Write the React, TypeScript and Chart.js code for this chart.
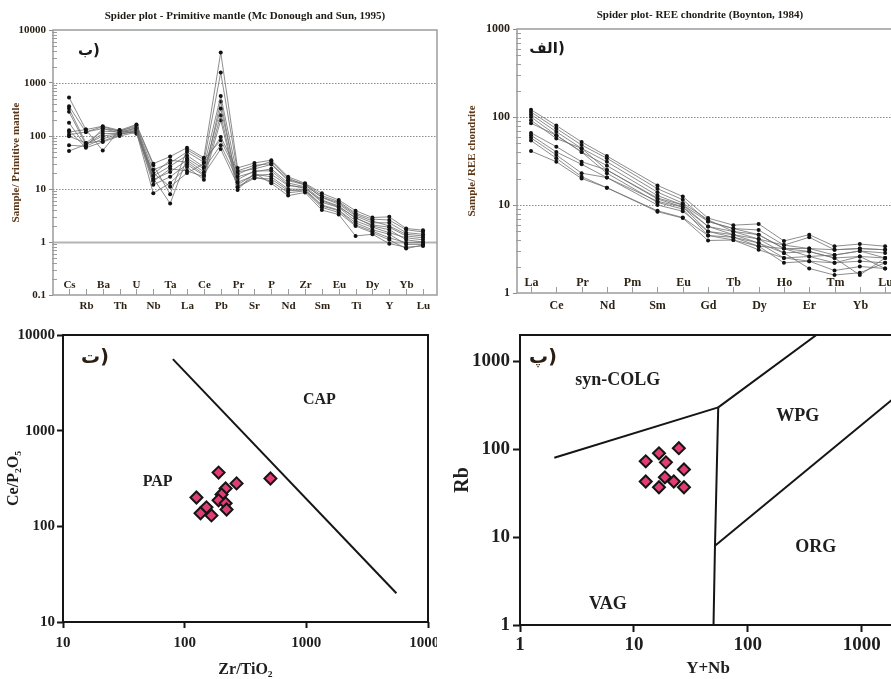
import React, { useEffect, useRef } from 'react';
import { Chart, registerables } from 'chart.js';

Chart.register(...registerables);

const SERIF = "'Liberation Serif', 'Times New Roman', Times, serif";
const ARABIC = "'DejaVu Sans', 'Noto Sans', sans-serif";

// ---------- Panel (ب): primitive-mantle normalised spider plot ----------
const PM_ELEMENTS = ['Cs', 'Rb', 'Ba', 'Th', 'U', 'Nb', 'Ta', 'La', 'Ce', 'Pb', 'Pr', 'Sr', 'P', 'Nd', 'Zr', 'Sm', 'Eu', 'Ti', 'Dy', 'Y', 'Yb', 'Lu'];
const PM_S01 = [535, 132, 153, 128, 165, 30, 41, 60, 39, 3770, 25, 31, 35, 17, 12.8, 8.3, 6.2, 3.9, 2.9, 2.98, 1.8, 1.67];
const PM_S02 = [366, 119, 138, 125, 150, 23, 31, 50, 32, 1570, 21, 24, 29, 14.4, 12, 6.9, 5.2, 3.1, 2.3, 2.3, 1.5, 1.4];
const PM_S03 = [330, 74, 124, 118, 140, 17.6, 27, 43, 26, 566, 17, 21, 24, 13, 11, 6.2, 4.8, 2.8, 2.1, 1.9, 1.3, 1.2];
const PM_S04 = [286, 69, 111, 112, 135, 15, 21, 35, 21, 330, 13.4, 18, 19, 11.6, 10.7, 5.6, 4.5, 2.5, 1.9, 1.5, 1.2, 1.1];
const PM_S05 = [177, 64, 89, 108, 125, 12, 17, 29, 18, 247, 10.8, 16, 15.5, 9.3, 9.5, 4.8, 3.9, 2.1, 1.6, 1.2, 0.97, 0.97];
const PM_S06 = [128, 60, 77, 100, 118, 8.3, 13, 26, 15, 198, 9.6, 20, 12.8, 7.5, 8.6, 4.0, 3.3, 1.3, 1.4, 0.93, 0.8, 0.84];
const PM_S07 = [119, 132, 53, 130, 110, 20, 11, 20, 30, 96, 22, 28, 30, 15, 12.5, 7.5, 5.8, 3.5, 2.7, 2.6, 1.7, 1.55];
const PM_S08 = [106, 119, 150, 122, 160, 28, 8, 55, 36, 83, 19, 26, 33, 16, 11.8, 7.0, 5.5, 3.3, 2.5, 2.0, 1.4, 1.3];
const PM_S09 = [99, 74, 80, 105, 130, 16, 5.3, 38, 24, 67, 15, 22, 22, 12, 10.2, 6.0, 4.6, 2.9, 2.0, 1.7, 1.1, 1.0];
const PM_S10 = [67, 64, 138, 115, 145, 19, 35, 32, 19, 57, 12, 19, 17, 10, 9.8, 5.0, 4.0, 2.3, 1.7, 1.4, 0.9, 0.9];
const PM_S11 = [52, 69, 100, 110, 120, 14, 24, 22, 17, 450, 11, 17, 14, 8.5, 9.2, 4.5, 3.6, 2.0, 1.5, 1.1, 0.75, 0.88];
const PM_SAMPLES = [PM_S01, PM_S02, PM_S03, PM_S04, PM_S05, PM_S06, PM_S07, PM_S08, PM_S09, PM_S10, PM_S11];
const PM_Y_TICKS = [0.1, 1, 10, 100, 1000, 10000];

// ---------- Panel (الف): chondrite-normalised REE spider plot ----------
const REE_ELEMENTS = ['La', 'Ce', 'Pr', 'Nd', 'Pm', 'Sm', 'Eu', 'Gd', 'Tb', 'Dy', 'Ho', 'Er', 'Tm', 'Yb', 'Lu'];
const REE_S01 = [121, 80, 52, 36, null, 16.7, 12.5, 7.1, 5.9, 6.1, 3.9, 4.6, 3.4, 3.6, 3.4];
const REE_S02 = [114, 74, 48, 34, null, 15.3, 11.5, 6.5, 5.4, 5.2, 3.5, 4.3, 3.1, 3.2, 3.1];
const REE_S03 = [107, 68, 44, 31, null, 14, 10.5, 6.8, 5.0, 4.6, 3.2, 3.2, 2.7, 3.0, 2.85];
const REE_S04 = [100, 62, 40, 28, null, 12.8, 10, 5.7, 4.6, 4.1, 2.85, 2.96, 2.5, 2.6, 2.5];
const REE_S05 = [92, 57, 44, 25, null, 11.7, 9.5, 5.0, 4.3, 3.7, 2.5, 2.6, 2.2, 2.3, 2.2];
const REE_S06 = [85, 62, 40, 23, null, 10.7, 9.0, 4.5, 4.0, 3.4, 2.2, 2.3, 1.8, 2.0, 1.9];
const REE_S07 = [66, 46, 31, 25, null, 12.0, 10, 6.5, 5.4, 4.6, 3.2, 2.6, 2.7, 3.0, 2.5];
const REE_S08 = [62, 40, 29, 20.5, null, 11, 9.5, 5.7, 5.0, 4.1, 3.5, 3.2, 3.1, 3.2, 3.1];
const REE_S09 = [58, 37, 23, 20.5, null, 10, 8.5, 5.0, 4.6, 3.7, 2.85, 1.9, 1.6, 1.7, 2.2];
const REE_S10 = [54, 34, 21, 15.7, null, 8.6, 7.2, 4.5, 4.3, 3.4, 3.2, 2.96, 2.5, 1.6, 2.5];
const REE_S11 = [41, 31, 20, 15.7, null, 8.4, 7.1, 3.95, 4.0, 3.1, 2.5, 2.3, 2.2, 2.6, 1.9];
const REE_SAMPLES = [REE_S01, REE_S02, REE_S03, REE_S04, REE_S05, REE_S06, REE_S07, REE_S08, REE_S09, REE_S10, REE_S11];
const REE_Y_TICKS = [1, 10, 100, 1000];

// ---------- Panel (ت): Ce/P2O5 vs Zr/TiO2 ----------
const ZR_TIO2 = [190, 507, 267, 217, 201, 125, 190, 217, 151, 135, 166, 221];
const CE_P2O5 = [365, 316, 281, 249, 215, 200, 187, 174, 158, 137, 130, 150];
const CAP_PAP_X = [80, 5500];
const CAP_PAP_Y = [5600, 20];
const ZR_TICKS = [10, 100, 1000, 10000];
const CE_TICKS = [10, 100, 1000, 10000];

// ---------- Panel (پ): Rb vs Y+Nb (Pearce et al.) ----------
const Y_NB = [24.8, 16.6, 12.7, 19.1, 27.5, 12.7, 18.7, 22.4, 16.6, 27.5];
const RB = [103, 90, 73, 71, 59, 43, 48, 43, 37, 37];
const SYNCOLG_VAG_X = [2, 55];
const SYNCOLG_VAG_Y = [80, 300];
const VAG_WPG_X = [55, 51.5, 50];
const VAG_WPG_Y = [300, 8, 1];
const SYNCOLG_WPG_X = [55, 400];
const SYNCOLG_WPG_Y = [300, 2000];
const WPG_ORG_X = [51.5, 2000];
const WPG_ORG_Y = [8, 400];
const YNB_TICKS = [1, 10, 100, 1000];
const RB_TICKS = [1, 10, 100, 1000];

// ---------- helpers ----------
const pairs = (xs: number[], ys: (number | null)[]) => xs.map((x, i) => ({ x, y: ys[i] as number }));
const indexed = (ys: (number | null)[]) => ys.map((y, i) => ({ x: i, y: y as number }));

const fixSize = (size: number) => (s: any) => {
  if (s.isHorizontal()) s.height = size;
  else s.width = size;
  s.paddingLeft = 0;
  s.paddingRight = 0;
  s.paddingTop = 0;
  s.paddingBottom = 0;
};
const setTicks = (vals: number[]) => (s: any) => {
  s.ticks = vals.map((v) => ({ value: v }));
};

function spiderDecor(p: any) {
  return {
    id: 'spiderDecor',
    beforeDatasetsDraw(chart: any) {
      const { ctx, chartArea: a, scales } = chart;
      const y = scales.y;
      ctx.save();
      for (const v of p.yTicks) {
        if (v <= p.yMin || v >= p.yMax) continue;
        const py = Math.round(y.getPixelForValue(v)) + 0.5;
        ctx.beginPath();
        if (v === p.solidAt) {
          ctx.setLineDash([]);
          ctx.strokeStyle = '#b4b4b4';
          ctx.lineWidth = 2;
        } else {
          ctx.setLineDash([1.5, 1.5]);
          ctx.strokeStyle = '#8a8a8a';
          ctx.lineWidth = 1;
        }
        ctx.moveTo(a.left, py);
        ctx.lineTo(a.right, py);
        ctx.stroke();
      }
      ctx.restore();
    },
    afterDatasetsDraw(chart: any) {
      const { ctx, chartArea: a, scales } = chart;
      const x = scales.x;
      const y = scales.y;
      ctx.save();
      ctx.setLineDash([]);
      ctx.strokeStyle = '#9c9c9c';
      ctx.lineWidth = 1.5;
      ctx.strokeRect(a.left, a.top, a.right - a.left, a.bottom - a.top);
      ctx.lineWidth = 1;
      const e0 = Math.round(Math.log10(p.yMin));
      const e1 = Math.round(Math.log10(p.yMax));
      for (let e = e0; e < e1; e++) {
        for (let k = 2; k <= 9; k++) {
          const v = k * Math.pow(10, e);
          const py = Math.round(y.getPixelForValue(v)) + 0.5;
          ctx.beginPath();
          ctx.moveTo(a.left - 1, py);
          ctx.lineTo(a.left + 4, py);
          ctx.stroke();
        }
      }
      ctx.font = `bold ${p.labelSize}px ${SERIF}`;
      ctx.fillStyle = '#2e2416';
      ctx.textAlign = 'center';
      ctx.textBaseline = 'middle';
      p.elements.forEach((el: string, i: number) => {
        const px = Math.round(x.getPixelForValue(i)) + 0.5;
        ctx.beginPath();
        ctx.moveTo(px, a.bottom);
        ctx.lineTo(px, a.bottom - 6);
        ctx.stroke();
        ctx.fillText(el, px, i % 2 === 0 ? p.innerY : p.outerY);
      });
      ctx.font = `bold 11px ${SERIF}`;
      ctx.fillStyle = '#1e1a14';
      ctx.fillText(p.title, p.titleX, p.titleY);
      ctx.font = `bold 15px ${ARABIC}`;
      ctx.fillStyle = '#1a1a1a';
      ctx.fillText(p.letter, p.letterX, p.letterY);
      ctx.restore();
    },
  };
}

function scatterDecor(p: any) {
  return {
    id: 'scatterDecor',
    afterDatasetsDraw(chart: any) {
      const { ctx, chartArea: a, scales } = chart;
      ctx.save();
      ctx.strokeStyle = '#151515';
      ctx.lineWidth = 2;
      ctx.strokeRect(a.left, a.top, a.right - a.left, a.bottom - a.top);
      ctx.fillStyle = '#1e1e1e';
      ctx.textAlign = 'center';
      ctx.textBaseline = 'middle';
      for (const l of p.labels) {
        ctx.font = `bold ${p.labelSize}px ${SERIF}`;
        ctx.fillText(l.text, scales.x.getPixelForValue(l.x), scales.y.getPixelForValue(l.y));
      }
      ctx.font = `bold ${p.letterSize}px ${ARABIC}`;
      ctx.fillStyle = '#2a1d12';
      ctx.fillText(p.letter, p.letterX, p.letterY);
      ctx.restore();
    },
  };
}

const commonOptions = {
  responsive: false,
  animation: false as const,
  devicePixelRatio: 1,
  events: [] as any[],
};

function makeSpider(p: any) {
  const datasets = p.samples.map((s: (number | null)[], k: number) => ({
    label: `S${k + 1}`,
    data: indexed(s),
    borderColor: '#707070',
    borderWidth: 0.8,
    pointRadius: 2,
    pointBackgroundColor: '#111',
    pointBorderWidth: 0,
    spanGaps: true,
    tension: 0,
  }));
  return {
    type: 'line',
    data: { datasets },
    options: {
      ...commonOptions,
      layout: { autoPadding: false, padding: { top: p.padTop, right: p.padRight, left: 0, bottom: 0 } },
      plugins: { legend: { display: false }, tooltip: { enabled: false }, title: { display: false } },
      scales: {
        x: {
          type: 'linear',
          min: p.xMin,
          max: p.xMax,
          afterFit: fixSize(p.xHeight),
          ticks: { display: false },
          grid: { display: false },
          border: { display: false },
        },
        y: {
          type: 'logarithmic',
          min: p.yMin,
          max: p.yMax,
          afterFit: fixSize(p.yWidth),
          afterBuildTicks: setTicks(p.yTicks),
          ticks: {
            autoSkip: false,
            padding: 3,
            color: '#2a2218',
            font: { family: SERIF, size: p.tickSize, weight: 'bold' },
            callback: (v: number) => String(v),
          },
          grid: { drawOnChartArea: false, drawTicks: true, tickLength: 4, tickColor: '#8c8c8c', tickWidth: 1 },
          border: { display: false },
          title: {
            display: true,
            text: p.yTitle,
            color: '#5a3516',
            font: { family: SERIF, size: 11, weight: 'bold' },
            padding: { top: p.yTitlePad, bottom: 0 },
          },
        },
      },
    },
    plugins: [spiderDecor(p)],
  };
}

function makeScatter(p: any) {
  const lineSets = p.lines.map((ln: any) => ({
    data: pairs(ln[0], ln[1]),
    showLine: true,
    borderColor: '#151515',
    borderWidth: 2,
    pointRadius: 0,
    tension: 0,
  }));
  return {
    type: 'scatter',
    data: {
      datasets: [
        {
          data: pairs(p.xs, p.ys),
          pointStyle: 'rectRot',
          pointRadius: 6,
          pointBackgroundColor: '#e23d72',
          pointBorderColor: '#151515',
          pointBorderWidth: 2,
        },
        ...lineSets,
      ],
    },
    options: {
      ...commonOptions,
      layout: { autoPadding: false, padding: { top: p.padTop, right: p.padRight, left: 0, bottom: 0 } },
      plugins: { legend: { display: false }, tooltip: { enabled: false } },
      scales: {
        x: {
          type: 'logarithmic',
          min: p.xMin,
          max: p.xMax,
          afterFit: fixSize(p.xHeight),
          afterBuildTicks: setTicks(p.xTicks),
          ticks: {
            autoSkip: false,
            maxRotation: 0,
            padding: p.xTickPad,
            color: '#1e1e1e',
            font: { family: SERIF, size: p.tickSize, weight: 'bold' },
            callback: (v: number) => String(v),
          },
          grid: { drawOnChartArea: false, drawTicks: true, tickLength: p.tickLen, tickColor: '#151515', tickWidth: 2 },
          border: { display: false },
          title: {
            display: true,
            text: p.xTitle,
            color: '#1e1e1e',
            font: { family: SERIF, size: p.xTitleSize, weight: 'bold' },
            padding: { top: 0, bottom: 0 },
          },
        },
        y: {
          type: 'logarithmic',
          min: p.yMin,
          max: p.yMax,
          afterFit: fixSize(p.yWidth),
          afterBuildTicks: setTicks(p.yTicks),
          ticks: {
            autoSkip: false,
            padding: p.yTickPad,
            color: '#1e1e1e',
            font: { family: SERIF, size: p.tickSize, weight: 'bold' },
            callback: (v: number) => String(v),
          },
          grid: { drawOnChartArea: false, drawTicks: true, tickLength: p.tickLen, tickColor: '#151515', tickWidth: 2 },
          border: { display: false },
          title: {
            display: true,
            text: p.yTitle,
            color: '#1e1e1e',
            font: { family: SERIF, size: p.yTitleSize, weight: 'bold' },
            padding: { top: p.yTitlePad, bottom: 0 },
          },
        },
      },
    },
    plugins: [scatterDecor(p)],
  };
}

const PANEL_TL = () =>
  makeSpider({
    elements: PM_ELEMENTS,
    samples: PM_SAMPLES,
    yMin: 0.1,
    yMax: 10000,
    yTicks: PM_Y_TICKS,
    solidAt: 1,
    xMin: -0.95,
    xMax: 21.83,
    padTop: 30,
    padRight: 8,
    yWidth: 53,
    xHeight: 25,
    tickSize: 11,
    labelSize: 11,
    yTitle: 'Sample/ Primitive mantle',
    yTitlePad: 10,
    title: 'Spider plot - Primitive mantle (Mc Donough and Sun, 1995)',
    titleX: 245,
    titleY: 16,
    letter: 'ب)',
    letterX: 89,
    letterY: 51,
    innerY: 285.5,
    outerY: 306,
  });

const PANEL_TR = () =>
  makeSpider({
    elements: REE_ELEMENTS,
    samples: REE_SAMPLES,
    yMin: 1,
    yMax: 1000,
    yTicks: REE_Y_TICKS,
    solidAt: null,
    xMin: -0.554,
    xMax: 14.47,
    padTop: 29,
    padRight: 13,
    yWidth: 67,
    xHeight: 27,
    tickSize: 12,
    labelSize: 12,
    yTitle: 'Sample/ REE chondrite',
    yTitlePad: 16,
    title: 'Spider plot- REE chondrite (Boynton, 1984)',
    titleX: 250,
    titleY: 15,
    letter: 'الف)',
    letterX: 97,
    letterY: 49,
    innerY: 283,
    outerY: 306,
  });

const PANEL_BL = () =>
  makeScatter({
    xs: ZR_TIO2,
    ys: CE_P2O5,
    lines: [[CAP_PAP_X, CAP_PAP_Y]],
    xMin: 10,
    xMax: 10000,
    yMin: 10,
    yMax: 10000,
    xTicks: ZR_TICKS,
    yTicks: CE_TICKS,
    padTop: 15,
    padRight: 22,
    yWidth: 63,
    xHeight: 57,
    tickSize: 15,
    tickLen: 6,
    xTickPad: 6,
    yTickPad: 2,
    xTitle: 'Zr/TiO₂',
    xTitleSize: 16,
    yTitle: 'Ce/P₂O₅',
    yTitleSize: 16,
    yTitlePad: 4,
    labelSize: 16,
    labels: [
      { text: 'CAP', x: 1280, y: 2100 },
      { text: 'PAP', x: 60, y: 294 },
    ],
    letter: 'ت)',
    letterSize: 19,
    letterX: 95,
    letterY: 38,
  });

const PANEL_BR = () =>
  makeScatter({
    xs: Y_NB,
    ys: RB,
    lines: [
      [SYNCOLG_VAG_X, SYNCOLG_VAG_Y],
      [VAG_WPG_X, VAG_WPG_Y],
      [SYNCOLG_WPG_X, SYNCOLG_WPG_Y],
      [WPG_ORG_X, WPG_ORG_Y],
    ],
    xMin: 1,
    xMax: 2000,
    yMin: 1,
    yMax: 2000,
    xTicks: YNB_TICKS,
    yTicks: RB_TICKS,
    padTop: 15,
    padRight: 9,
    yWidth: 75,
    xHeight: 54,
    tickSize: 19,
    tickLen: 7,
    xTickPad: 2,
    yTickPad: 3,
    xTitle: 'Y+Nb',
    xTitleSize: 17,
    yTitle: 'Rb',
    yTitleSize: 20,
    yTitlePad: 6,
    labelSize: 18,
    labels: [
      { text: 'syn-COLG', x: 7.2, y: 605 },
      { text: 'WPG', x: 275, y: 240 },
      { text: 'ORG', x: 395, y: 7.7 },
      { text: 'VAG', x: 5.9, y: 1.74 },
    ],
    letter: 'پ)',
    letterSize: 19,
    letterX: 98,
    letterY: 38,
  });

function Panel(props: { left: number; top: number; width: number; height: number; cw: number; ch: number; make: () => any }) {
  const ref = useRef<HTMLCanvasElement | null>(null);
  useEffect(() => {
    if (!ref.current) return;
    const chart = new Chart(ref.current, props.make());
    return () => chart.destroy();
  }, []);
  return (
    <div style={{ position: 'absolute', left: props.left, top: props.top, width: props.width, height: props.height, overflow: 'hidden' }}>
      <canvas ref={ref} width={props.cw} height={props.ch} style={{ display: 'block', width: props.cw, height: props.ch }} />
    </div>
  );
}

export default function App() {
  return (
    <div style={{ position: 'absolute', left: 0, top: 0, width: 891, height: 679, overflow: 'hidden', background: '#fff' }}>
      <Panel left={0} top={0} width={445} height={320} cw={445} ch={320} make={PANEL_TL} />
      <Panel left={450} top={0} width={441} height={320} cw={460} ch={320} make={PANEL_TR} />
      <Panel left={0} top={320} width={437} height={359} cw={450} ch={359} make={PANEL_BL} />
      <Panel left={445} top={320} width={446} height={359} cw={460} ch={359} make={PANEL_BR} />
    </div>
  );
}
